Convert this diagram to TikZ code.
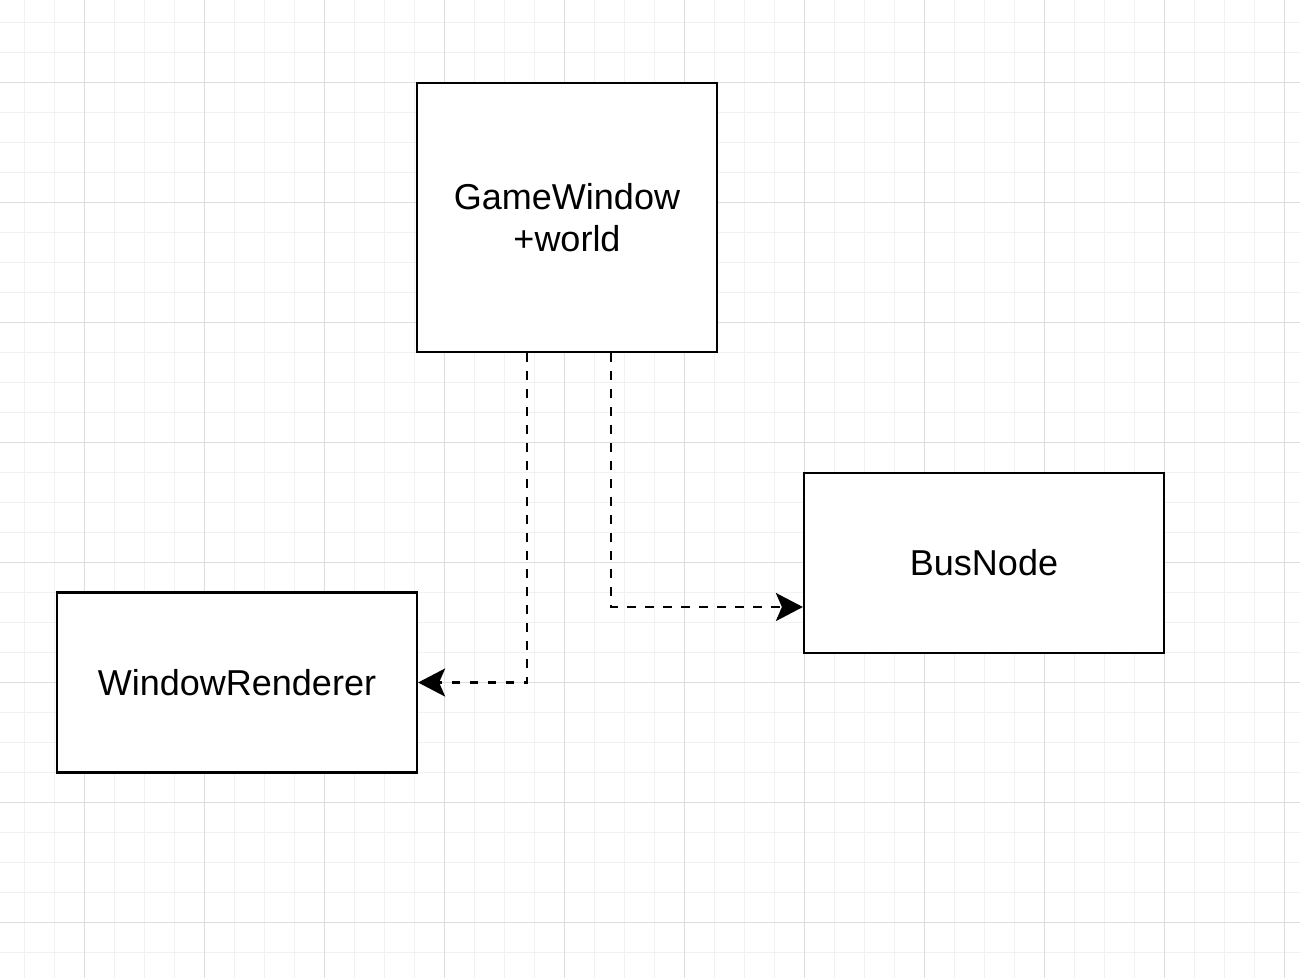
\documentclass[tikz,border=0pt]{standalone}
\usepackage{fontspec}
\setmainfont{Liberation Sans}
\usetikzlibrary{arrows.meta,calc}
\definecolor{minorgrid}{RGB}{241,241,241}
\definecolor{majorgrid}{RGB}{221,221,221}
\tikzset{
  box/.style={draw=black, line width=2.2pt, fill=white, inner sep=0pt, align=center,
    font=\fontsize{36}{42}\selectfont},
  link/.style={line width=2.5pt, dash pattern=on 8.5pt off 9.5pt,
    -{Stealth[length=27pt, width=28pt, inset=6pt]}},
}
\begin{document}
\begin{tikzpicture}[x=1pt, y=-1pt]
  \useasboundingbox (0,0) rectangle (1300,978);
  \fill[white] (0,0) rectangle (1300,978);
  % minor grid
  \foreach \x in {24,54,...,1300} \draw[minorgrid, line width=1pt] (\x,0) -- (\x,978);
  \foreach \y in {22,52,...,978} \draw[minorgrid, line width=1pt] (0,\y) -- (1300,\y);
  % major grid
  \foreach \x in {84,204,...,1300} \draw[majorgrid, line width=1pt] (\x,0) -- (\x,978);
  \foreach \y in {82,202,...,978} \draw[majorgrid, line width=1pt] (0,\y) -- (1300,\y);

  \node[box, minimum width=300pt, minimum height=269pt] (gw) at (567,217.5) {GameWindow\\+world};
  \node[box, minimum width=360pt, minimum height=180pt] (wr) at (237,682.5) {WindowRenderer};
  \node[box, minimum width=360pt, minimum height=180pt] (bn) at (984,563) {BusNode};

  \coordinate (gwa) at ($(gw.south west)+(111,0)$);
  \coordinate (gwb) at ($(gw.south west)+(195,0)$);
  \coordinate (bnin) at ($(bn.west)+(0,44)$);

  \draw[link] (gwa) |- (wr.east);
  \draw[link] (gwb) |- (bnin);
\end{tikzpicture}
\end{document}
